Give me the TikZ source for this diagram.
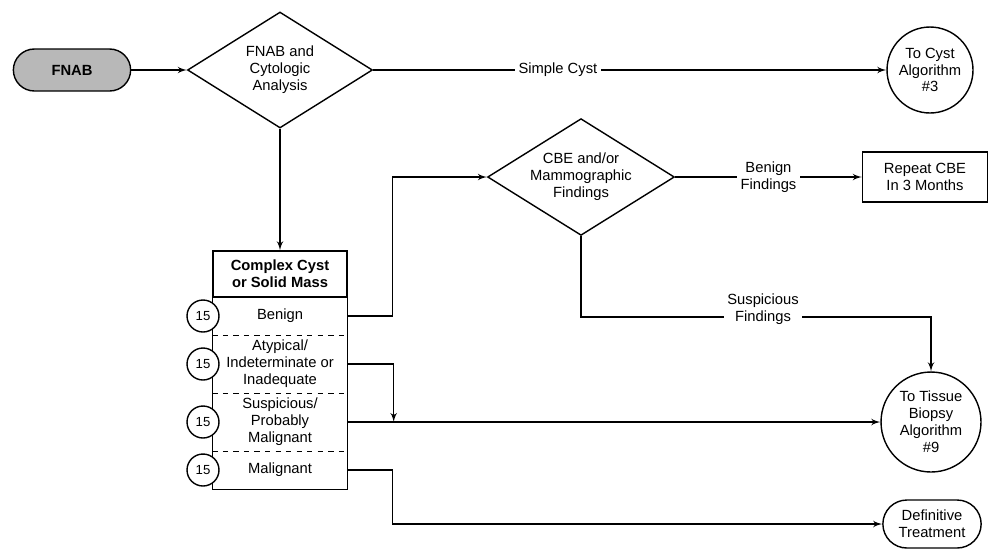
\documentclass[tikz,border=0pt]{standalone}
\usepackage{fontspec}
\setmainfont{Liberation Sans}
\usepackage{tikz}
\usetikzlibrary{arrows,calc,shapes.geometric,shapes.misc}
\tikzset{
    every node/.style = {
        font=\fontsize{8.4}{9.6}\selectfont,
        align=center
    },
    terminal/.style = {
        draw,
        shape=rounded rectangle,
        minimum width=2.58cm,
        minimum height=0.84cm,
        line width=0.8pt,
        fill=black!28
    },
    decision/.style = {
        draw,
        shape=diamond,
        aspect=1.6,
        inner sep=1pt,
        line width=0.8pt
    },
    process/.style = {
        draw,
        shape=rectangle,
        minimum width=2.5cm,
        minimum height=1cm,
        line width=0.8pt
    },
    offpage/.style = {
        draw,
        shape=circle,
        inner sep=0pt,
        line width=0.8pt
    },
    rowbox/.style = {
        shape=rectangle,
        inner sep=0pt,
        minimum width=2.68cm
    },
    refnote/.style = {
        draw,
        shape=circle,
        fill=white,
        inner sep=0pt,
        minimum size=0.64cm,
        line width=0.8pt,
        font=\fontsize{7.5}{9}\selectfont
    },
    lbl/.style = {
        fill=white,
        inner sep=2pt,
        anchor=center
    },
    >=latex',
}

\begin{document}
\begin{tikzpicture}[x=0.02cm,y=-0.02cm,line width=0.8pt]

            \useasboundingbox (0,0) rectangle (989,549);

            \node[terminal] (fnab) at (72,70) {\textbf{FNAB}};
            \node[decision, minimum width=3.7cm, minimum height=2.32cm] (cyto) at (280,70) {FNAB and\\Cytologic\\Analysis};
            \node[offpage, minimum size=1.72cm] (cyst) at (930,70) {To Cyst\\Algorithm\\\#3};

            \node[decision, minimum width=3.34cm, minimum height=2.2cm] (cbe) at (581,177) {CBE and/or\\Mammographic\\Findings};
            \node[process] (repeat) at (925,177) {Repeat CBE\\In 3 Months};

            % complex cyst box and its rows
            \node[rowbox, draw, minimum height=0.92cm] (mass) at (280,274) {\textbf{Complex Cyst}\\\textbf{or Solid Mass}};
            \node[rowbox, minimum height=0.76cm] (benign) at (280,316) {Benign};
            \node[rowbox, minimum height=1.16cm] (atyp) at (280,364) {Atypical/\\Indeterminate or\\Inadequate};
            \node[rowbox, minimum height=1.16cm] (susp) at (280,422) {Suspicious/\\Probably\\Malignant};
            \node[rowbox, minimum height=0.76cm] (malig) at (280,470) {Malignant};

            \draw (mass.south west) rectangle (malig.south east);
            \draw[dashed] (benign.south west) -- (benign.south east);
            \draw[dashed] (atyp.south west) -- (atyp.south east);
            \draw[dashed] (susp.south west) -- (susp.south east);

            \node[refnote] (ref_benign) at (203,316) {15};
            \node[refnote] (ref_atyp) at (203,364) {15};
            \node[refnote] (ref_susp) at (203,422) {15};
            \node[refnote] (ref_malig) at (203,470) {15};

            \node[offpage, minimum size=2cm] (biopsy) at (931,422) {To Tissue\\Biopsy\\Algorithm\\\#9};
            \node[terminal, fill=none, minimum width=2.2cm, minimum height=0.96cm] (treat) at (932,524) {Definitive\\Treatment};


            \path[draw, ->] (fnab.east) -- (cyto.west);
            \path[draw, ->] (cyto.east) -- node[lbl, pos=0.36] {Simple Cyst} (cyst.west);
            \path[draw, ->] (cyto.south) -- (mass.north);

            \path[draw, ->] (benign.east) -- ++(45,0) |- (cbe.west);
            \path[draw, ->] (cbe.east) -- node[lbl] {Benign\\Findings} (repeat.west);
            \path[draw, ->] (cbe.south) -- ++(0,81) coordinate (turn_susp)
                -- node[lbl, pos=0.52, yshift=0.16cm] {Suspicious\\Findings} (turn_susp -| biopsy.north) -- (biopsy.north);

            \path[draw, ->] (atyp.east) -- ++(46,0) coordinate (turn_atyp) -- (turn_atyp |- susp.east);
            \path[draw, ->] (susp.east) -- (biopsy.west);
            \path[draw, ->] (malig.east) -- ++(45,0) |- (treat.west);

\end{tikzpicture}
\end{document}
